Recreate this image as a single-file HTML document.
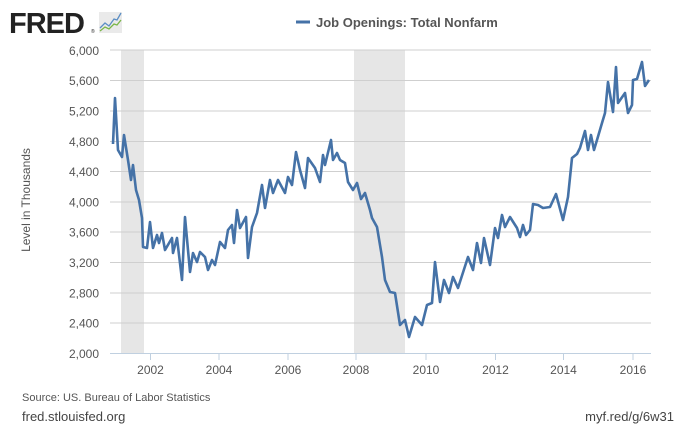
<!DOCTYPE html>
<html><head><meta charset="utf-8"><style>
body{margin:0;background:#fff;width:680px;height:427px;overflow:hidden;font-family:"Liberation Sans",sans-serif}
</style></head><body>
<svg width="680" height="427" viewBox="0 0 680 427" xmlns="http://www.w3.org/2000/svg" font-family="Liberation Sans, sans-serif">
<text x="9" y="33" font-size="29" font-weight="bold" fill="#222" letter-spacing="-1">FRED</text>
<text x="91" y="33" font-size="5" fill="#222">®</text>
<rect x="99" y="12" width="23" height="21" fill="#eaeaea"/>
<polyline points="100,28 105,23 109,26 114,19 117,20 121,13" fill="none" stroke="#5b8ec4" stroke-width="1.3"/>
<polyline points="100,31 105,27 109,29 114,24 117,25 121,20" fill="none" stroke="#7ab648" stroke-width="1.3"/>
<line x1="296" y1="22" x2="310" y2="22" stroke="#4572a7" stroke-width="3"/>
<text x="316" y="27" font-size="13" font-weight="bold" fill="#555">Job Openings: Total Nonfarm</text>
<rect x="121" y="50" width="23" height="304" fill="#e6e6e6"/>
<rect x="354" y="50" width="51" height="304" fill="#e6e6e6"/>
<g stroke="#cfcfcf" stroke-width="1">
<line x1="110" x2="651" y1="50" y2="50"/><line x1="110" x2="651" y1="80.5" y2="80.5"/><line x1="110" x2="651" y1="111" y2="111"/><line x1="110" x2="651" y1="141.5" y2="141.5"/><line x1="110" x2="651" y1="171.5" y2="171.5"/><line x1="110" x2="651" y1="202" y2="202"/><line x1="110" x2="651" y1="232" y2="232"/><line x1="110" x2="651" y1="262.5" y2="262.5"/><line x1="110" x2="651" y1="293" y2="293"/><line x1="110" x2="651" y1="323" y2="323"/>
</g>
<line x1="110" x2="651" y1="353.5" y2="353.5" stroke="#c0d0e0"/>
<g stroke="#c0d0e0"><line x1="150.5" x2="150.5" y1="354" y2="360"/><line x1="219" x2="219" y1="354" y2="360"/><line x1="288" x2="288" y1="354" y2="360"/><line x1="356" x2="356" y1="354" y2="360"/><line x1="426" x2="426" y1="354" y2="360"/><line x1="495.5" x2="495.5" y1="354" y2="360"/><line x1="563.5" x2="563.5" y1="354" y2="360"/><line x1="633" x2="633" y1="354" y2="360"/></g>
<g font-size="12" fill="#555" text-anchor="end">
<text x="99" y="55">6,000</text><text x="99" y="85">5,600</text><text x="99" y="115.5">5,200</text><text x="99" y="146">4,800</text><text x="99" y="176">4,400</text><text x="99" y="206.5">4,000</text><text x="99" y="236.5">3,600</text><text x="99" y="267">3,200</text><text x="99" y="297.5">2,800</text><text x="99" y="327.5">2,400</text><text x="99" y="358">2,000</text>
</g>
<g font-size="12" fill="#555" text-anchor="middle">
<text x="150.5" y="374">2002</text><text x="219" y="374">2004</text><text x="288" y="374">2006</text><text x="356" y="374">2008</text><text x="426" y="374">2010</text><text x="495.5" y="374">2012</text><text x="563.5" y="374">2014</text><text x="633" y="374">2016</text>
</g>
<text transform="translate(30,200) rotate(-90)" font-size="12" fill="#555" text-anchor="middle">Level in Thousands</text>
<polyline fill="none" stroke="#4572a7" stroke-width="2.6" stroke-linejoin="round" points="113,144 115,98 118,150 122,157 124,135 128,160 131,180 133,165 136,190 139,200 142,218 143,247 147,248 150,222 153,248 157,235 159,243 162,233 165,250 172,238 173,253 177,238 182,280 185,217 190,272 193,253 197,262 200,252 205,257 208,270 212,260 215,265 220,242 225,248 228,230 232,225 234,243 237,210 240,228 246,217 248,258 252,227 257,213 262,185 265,208 270,180 273,193 278,180 285,193 288,177 292,185 296,152 300,170 305,188 308,158 315,168 320,182 323,155 325,165 331,140 333,160 337,153 340,160 345,163 348,182 353,190 357,183 361,199 365,193 370,210 372,218 377,227 382,257 385,280 390,292 395,293 400,325 405,320 409,337 415,317 422,325 427,305 432,303 435,262 440,302 444,280 449,293 453,277 458,288 468,257 473,270 477,243 481,263 484,238 490,265 495,228 498,238 502,215 505,227 510,217 517,228 520,237 523,225 526,235 530,230 533,204 538,205 543,208 550,207 556,194 563,220 568,197 572,158 577,154 580,148 585,131 588,150 591,135 594,150 597,140 602,123 605,113 608,82 613,112 616,67 618,103 625,93 628,113 632,105 633,80 637,79 642,62 645,86 649,80"/>
<text x="22" y="401" font-size="11" fill="#555">Source: US. Bureau of Labor Statistics</text>
<text x="22" y="421" font-size="13" fill="#444">fred.stlouisfed.org</text>
<text x="674" y="421" font-size="13" fill="#444" text-anchor="end">myf.red/g/6w31</text>
</svg>
</body></html>
